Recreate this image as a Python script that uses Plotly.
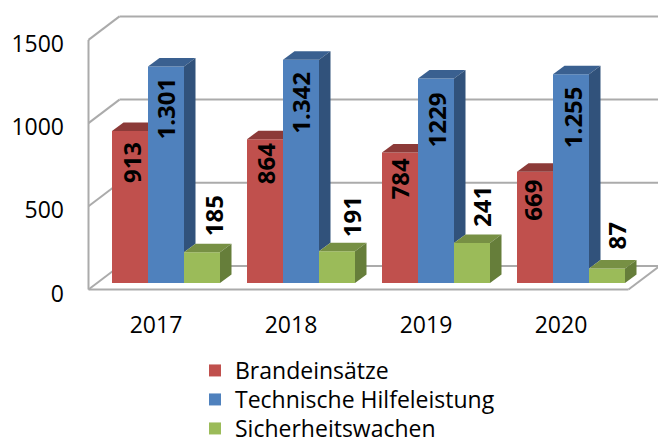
import plotly.graph_objects as go

years = ["2017", "2018", "2019", "2020"]
brand = [913, 864, 784, 669]
technik = [1301, 1342, 1229, 1255]
sicherheit = [185, 191, 241, 87]
brand_labels = ["913", "864", "784", "669"]
technik_labels = ["1.301", "1.342", "1229", "1.255"]
sicherheit_labels = ["185", "191", "241", "87"]
y_ticks = [0, 500, 1000, 1500]

# drawing geometry
W, H = 658, 437
PX_X = 135.0          # px per category
PX_Y = 0.1664         # px per value unit
X0_PX, Y0_PX = 156.0, 289.5
ML, MT, MB = 85, 8, 437 - 296
sx = lambda px: px / PX_X
sy = lambda px: px / PX_Y
BAR_W = sx(36)
BAR_BASE = sy(6.5)
DX, DY = sx(11.5), sy(8.5)       # bar depth
WX, WY = sx(31), sy(23.5)        # wall depth
OFFS = [sx(-26), sx(10), sx(46)]  # bar centres relative to the category tick
XL, XR = -0.5, 3.5
XMAX = (W - X0_PX) / PX_X

FACE = ["#C0504D", "#4F81BD", "#9BBB59"]
TOP = ["#8C3A38", "#3A6090", "#779044"]
SIDE = ["#6F2E2C", "#31527B", "#667E3A"]
GRID = "#ABABAB"
names = ["Brandeinsätze", "Technische Hilfeleistung", "Sicherheitswachen"]
series = [brand, technik, sicherheit]
label_sets = [brand_labels, technik_labels, sicherheit_labels]
legend_ids = ["legend", "legend2", "legend3"]
legend_tops = [349, 378, 407]
# label centres relative to bar top (px, + = upward) and bar centre (px, + = right)
label_dy = [[-32, -25, -27, -29], [-42, -43, -42, -43], [36, 34, 36, 32]]
label_dx = [[1, 0, 0, -2], [0, 0, 0, 1], [11, 14, 10, 10]]

fig = go.Figure()

# front faces
for s in range(3):
    fig.add_trace(go.Bar(
        x=[k + OFFS[s] for k in range(4)], y=series[s], base=[BAR_BASE] * 4,
        width=BAR_W, name=names[s], marker=dict(color=FACE[s], line=dict(width=0)),
        legend=legend_ids[s], showlegend=True, hoverinfo="skip"))


def poly(xs, ys, color):
    fig.add_trace(go.Scatter(x=xs + xs[:1], y=ys + ys[:1], mode="lines", fill="toself",
                             fillcolor=color, line=dict(width=0), showlegend=False,
                             hoverinfo="skip"))


# top and side faces, clipped where the neighbouring bar hides them
for k in range(4):
    for s in range(3):
        left = k + OFFS[s] - BAR_W / 2
        right = left + BAR_W
        top = series[s][k] + BAR_BASE
        if s == 0:
            poly([left, right, right, left + DX], [top, top, top + DY, top + DY], TOP[s])
        else:
            poly([left, right, right + DX, left + DX], [top, top, top + DY, top + DY], TOP[s])
        if s == 1:
            low = sicherheit[k] + BAR_BASE
            poly([right, right + DX, right + DX, right], [top, top + DY, low + DY, low], SIDE[s])
        if s == 2:
            poly([right, right + DX, right + DX, right],
                 [top, top + DY, BAR_BASE + DY, BAR_BASE], SIDE[s])

shapes = []


def line(x0, y0, x1, y1):
    shapes.append(dict(type="line", layer="below", xref="x", yref="y", x0=x0, y0=y0, x1=x1, y1=y1,
                       line=dict(color=GRID, width=2)))


line(XL, 0, XL, y_ticks[-1])
line(XL, 0, XR, 0)
line(XR, 0, XR + WX, WY)
for v in y_ticks:
    line(XL, v, XL + WX, v + WY)
    line(XL + WX, v + WY, XMAX + 0.05, v + WY)

annotations = []
for s in range(3):
    for k in range(4):
        annotations.append(dict(
            x=k + OFFS[s] + sx(label_dx[s][k]),
            y=series[s][k] + BAR_BASE + sy(label_dy[s][k]),
            text=label_sets[s][k], textangle=-90, showarrow=False,
            xanchor="center", yanchor="middle",
            font=dict(family="Open Sans", size=24, color="#000000", weight="bold")))

plot_w = W - ML
plot_h = H - MB - MT


def legend_box(top):
    return dict(x=(195 - ML) / plot_w, y=1 - (top - MT) / plot_h, xanchor="left", yanchor="top",
                bgcolor="rgba(0,0,0,0)", font=dict(family="Open Sans", size=23),
                itemclick=False, itemdoubleclick=False)


fig.update_layout(
    width=W, height=H, autosize=False, paper_bgcolor="white", plot_bgcolor="white",
    margin=dict(l=ML, r=0, t=MT, b=MB, autoexpand=False),
    barmode="overlay", shapes=shapes, annotations=annotations,
    font=dict(family="Open Sans", size=23, color="#000000"),
    showlegend=True,
    legend=legend_box(legend_tops[0]),
    legend2=legend_box(legend_tops[1]),
    legend3=legend_box(legend_tops[2]),
)
fig.update_xaxes(range=[(ML - X0_PX) / PX_X, XMAX], tickmode="array", tickvals=list(range(4)),
                 ticktext=years, showgrid=False, zeroline=False, showline=False, ticks="",
                 ticklabelstandoff=13)
fig.update_yaxes(range=[(Y0_PX - (H - MB)) / PX_Y, (Y0_PX - MT) / PX_Y], tickmode="array",
                 tickvals=y_ticks, ticktext=[str(v) for v in y_ticks], showgrid=False, zeroline=False,
                 showline=False, ticks="", ticklabelstandoff=20, ticklabelshift=4)

fig.write_html("out.html", config={"displayModeBar": False},
               post_script="document.body.style.margin='0';")
